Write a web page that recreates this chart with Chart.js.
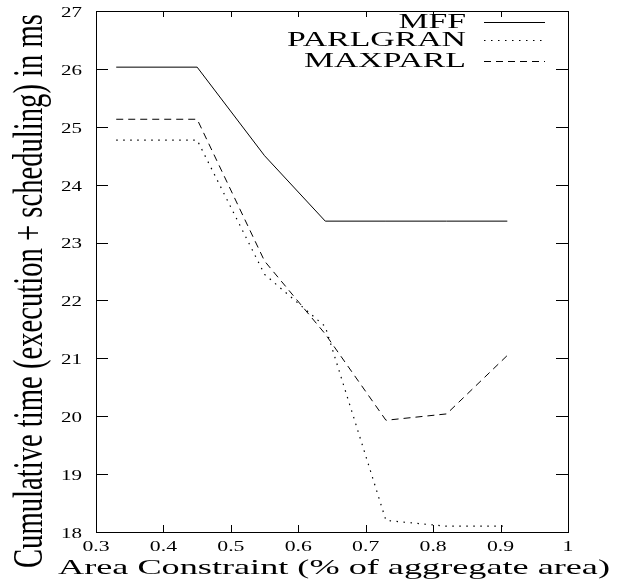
<!DOCTYPE html>
<html>
<head>
<meta charset="utf-8">
<script src="https://cdn.jsdelivr.net/npm/chart.js@4"></script>
<style>
  html, body { margin: 0; padding: 0; background: #fff; }
  #wrap { width: 626px; height: 584px; }
</style>
</head>
<body>
<div id="wrap"><canvas id="areaChart"></canvas></div>
<script>
// data
const areaConstraint = [0.33, 0.45, 0.55, 0.64, 0.73, 0.82, 0.91];
const mffTime      = [26.03, 26.03, 24.50, 23.37, 23.37, 23.37, 23.37];
const parlgranTime = [24.77, 24.77, 22.45, 21.55, 18.20, 18.10, 18.10];
const maxparlTime  = [25.13, 25.13, 22.68, 21.42, 19.93, 20.04, 21.05];

const xTickValues = [0.3, 0.4, 0.5, 0.6, 0.7, 0.8, 0.9, 1];
const xTickLabels = ["0.3", "0.4", "0.5", "0.6", "0.7", "0.8", "0.9", "1"];
const yTickValues = [18, 19, 20, 21, 22, 23, 24, 25, 26, 27];
const yTickLabels = ["18", "19", "20", "21", "22", "23", "24", "25", "26", "27"];

const xTitle = "Area Constraint (% of aggregate area)";
const yTitle = "Cumulative time (execution + scheduling) in ms";

const SERIF = "'Liberation Serif', 'DejaVu Serif', serif";

function toPoints(ys) {
    return areaConstraint.map((x, i) => ({ x: x, y: ys[i] }));
}

// draw text squeezed / stretched horizontally like the old postscript plot
function stretchText(ctx, text, x, y, sx, align) {
    ctx.save();
    ctx.translate(x, y);
    ctx.scale(sx, 1);
    ctx.textAlign = align;
    ctx.fillText(text, 0, 0);
    ctx.restore();
}

// frame, inward ticks, labels, titles and legend
const gnuplotLook = {
    id: "gnuplotLook",
    afterDraw(chart) {
        const ctx = chart.ctx;
        const a = chart.chartArea;
        const xs = chart.scales.x;
        const ys = chart.scales.y;

        ctx.save();
        ctx.strokeStyle = "#000";
        ctx.lineWidth = 1;
        ctx.setLineDash([]);
        ctx.strokeRect(Math.round(a.left) + 0.5, Math.round(a.top) + 0.5,
            Math.round(a.right - a.left), Math.round(a.bottom - a.top));

        ctx.beginPath();
        xTickValues.forEach(v => {
            const px = Math.round(xs.getPixelForValue(v)) + 0.5;
            ctx.moveTo(px, a.bottom); ctx.lineTo(px, a.bottom - 7);
            ctx.moveTo(px, a.top); ctx.lineTo(px, a.top + 6);
        });
        yTickValues.forEach(v => {
            const py = Math.round(ys.getPixelForValue(v)) + 0.5;
            ctx.moveTo(a.left, py); ctx.lineTo(a.left + 12, py);
            ctx.moveTo(a.right, py); ctx.lineTo(a.right - 12, py);
        });
        ctx.stroke();

        ctx.fillStyle = "#000";
        ctx.textBaseline = "middle";
        ctx.font = "15px " + SERIF;
        xTickValues.forEach((v, i) => {
            stretchText(ctx, xTickLabels[i], xs.getPixelForValue(v), a.bottom + 15, 1.45, "center");
        });
        yTickValues.forEach((v, i) => {
            stretchText(ctx, yTickLabels[i], 82, ys.getPixelForValue(v) + 2, 1.4, "right");
        });

        // x title
        ctx.textBaseline = "alphabetic";
        ctx.font = "21px " + SERIF;
        let w = ctx.measureText(xTitle).width;
        stretchText(ctx, xTitle, 334, 574, 552 / w, "center");

        // y title, rotated, tall and condensed
        ctx.font = "43px " + SERIF;
        w = ctx.measureText(yTitle).width;
        ctx.save();
        ctx.translate(42, 291);
        ctx.rotate(-Math.PI / 2);
        stretchText(ctx, yTitle, 0, 0, 554 / w, "center");
        ctx.restore();

        // legend in the top right corner
        ctx.font = "20px " + SERIF;
        ctx.textBaseline = "middle";
        const lsx = 179 / ctx.measureText("PARLGRAN").width;
        const rows = [22, 40, 61];
        chart.data.datasets.forEach((ds, i) => {
            const y = rows[i];
            ctx.fillStyle = "#000";
            stretchText(ctx, ds.label, 466, y + 1, lsx, "right");
            ctx.beginPath();
            ctx.strokeStyle = ds.borderColor;
            ctx.lineWidth = ds.borderWidth;
            ctx.setLineDash(ds.borderDash || []);
            ctx.moveTo(484, y + 0.5);
            ctx.lineTo(545, y + 0.5);
            ctx.stroke();
        });
        ctx.restore();
    }
};

const ctx = document.getElementById("areaChart").getContext("2d");

const areaChart = new Chart(ctx, {
    type: "scatter",
    data: {
        datasets: [{
            label: "MFF",
            data: toPoints(mffTime),
            borderColor: "#000",
            borderWidth: 1,
            showLine: true,
            pointRadius: 0
        }, {
            label: "PARLGRAN",
            data: toPoints(parlgranTime),
            borderColor: "#000",
            borderWidth: 1.2,
            borderDash: [1.5, 5.5],
            showLine: true,
            pointRadius: 0
        }, {
            label: "MAXPARL",
            data: toPoints(maxparlTime),
            borderColor: "#000",
            borderWidth: 1,
            borderDash: [7, 5],
            showLine: true,
            pointRadius: 0
        }]
    },
    options: {
        responsive: true,
        maintainAspectRatio: false,
        animation: false,
        layout: {
            padding: { top: 11, right: 58, left: 0, bottom: 0 }
        },
        plugins: {
            legend: { display: false },
            tooltip: { enabled: false }
        },
        scales: {
            x: {
                type: "linear",
                min: 0.3,
                max: 1,
                ticks: { display: false, stepSize: 0.1 },
                grid: { display: false },
                border: { display: false },
                afterFit: s => { s.height = 52; }
            },
            y: {
                type: "linear",
                min: 18,
                max: 27,
                ticks: { display: false, stepSize: 1 },
                grid: { display: false },
                border: { display: false },
                afterFit: s => { s.width = 96; }
            }
        }
    },
    plugins: [gnuplotLook]
});
</script>
</body>
</html>
